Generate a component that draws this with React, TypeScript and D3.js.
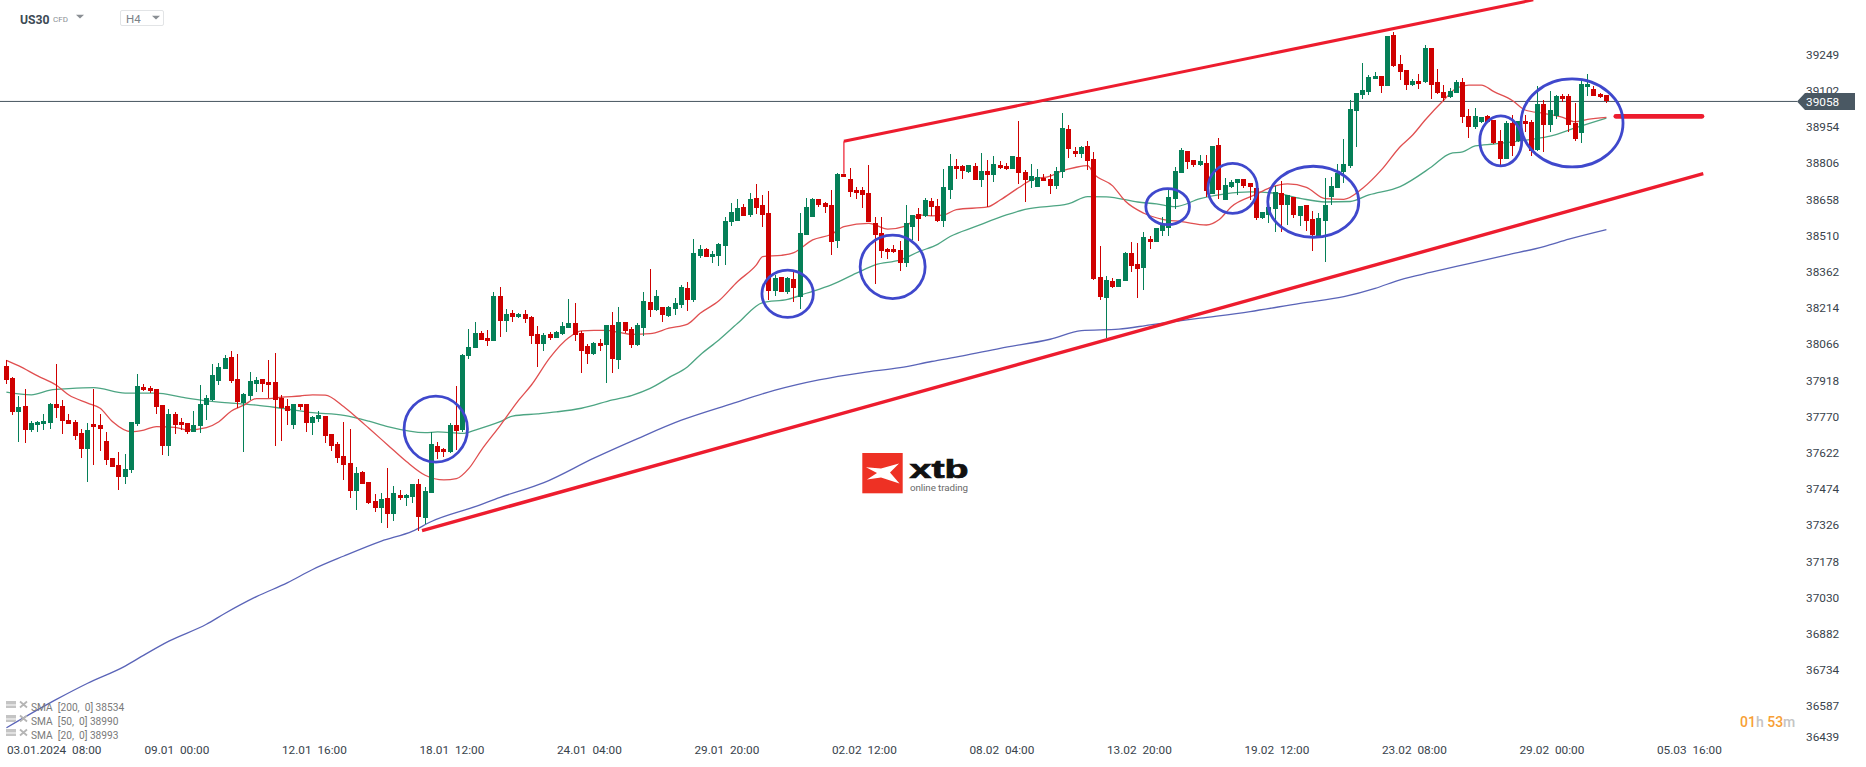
import { useEffect, useRef } from 'react';
import * as d3 from 'd3';

// US30 H4, values
const opens = [
  37977,37928,37789,37813,37715,37736,37740,37744,37821,37813,
  37756,37748,37703,37637,37740,37736,37670,37601,37572,37523,
  37552,37740,37891,37887,37883,37817,37650,37780,37748,37744,
  37707,37731,37817,37838,37915,37964,38013,37923,37825,37854,
  37903,37923,37911,37911,37846,37813,37736,37821,37821,37744,
  37760,37772,37699,37658,37609,37580,37466,37544,37503,37425,
  37396,37437,37372,37450,37437,37441,37494,37356,37458,37650,
  37637,37625,37736,37715,38017,38050,38111,38091,38079,38263,
  38161,38193,38177,38189,38177,38107,38067,38107,38091,38107,
  38132,38152,38112,38058,38026,38071,38062,38144,38001,38157,
  38128,38062,38132,38238,38206,38218,38181,38210,38226,38295,
  38247,38427,38455,38422,38427,38467,38566,38570,38627,38594,
  38664,38635,38602,38284,38341,38279,38333,38259,38512,38586,
  38659,38643,38635,38488,38762,38741,38696,38696,38684,38561,
  38521,38455,38455,38451,38398,38545,38598,38590,38651,38631,
  38570,38696,38794,38794,38770,38794,38737,38774,38758,38798,
  38794,38782,38831,38770,38733,38708,38745,38741,38713,38770,
  38945,38856,38843,38876,38823,38341,38255,38324,38300,38324,
  38439,38394,38378,38496,38484,38529,38541,38659,38766,38856,
  38819,38798,38807,38680,38880,38655,38708,38725,38741,38725,
  38704,38582,38594,38619,38684,38635,38668,38590,38635,38578,
  38508,38570,38668,38704,38770,38794,39019,39085,39097,39150,
  39162,39121,39330,39211,39187,39125,39142,39138,39277,39138,
  39097,39076,39093,39138,38999,38953,38974,38998,38982,38896,
  38822,38970,38896,38978,38974,38859,39047,38961,38998,39080,
  39080,38970,38929,39117,39109,39088,39084,
];
const highs = [
  38001,37932,37854,37883,37752,37752,37780,37825,37985,37838,
  37780,37756,37719,37744,37883,37780,37707,37601,37625,37617,
  37748,37944,37903,37895,37883,37817,37801,37789,37764,37744,
  37793,37899,37858,37985,37989,38021,38038,38026,37866,37952,
  37932,37923,38001,38030,37858,37842,37821,37821,37821,37772,
  37793,37772,37699,37666,37748,37719,37564,37548,37503,37454,
  37458,37560,37486,37470,37454,37494,37515,37482,37707,37666,
  37642,37744,37895,38026,38128,38156,38120,38124,38279,38299,
  38210,38206,38193,38206,38181,38140,38112,38116,38120,38157,
  38251,38234,38120,38067,38075,38087,38144,38197,38218,38157,
  38136,38152,38279,38373,38287,38218,38222,38255,38308,38320,
  38496,38472,38459,38447,38480,38586,38643,38659,38639,38684,
  38721,38676,38692,38349,38341,38341,38361,38602,38664,38664,
  38659,38647,38696,38766,38762,38786,38708,38708,38798,38586,
  38586,38459,38472,38488,38635,38594,38623,38664,38664,38659,
  38782,38843,38823,38798,38798,38807,38847,38819,38835,38815,
  38807,38835,38978,38778,38802,38782,38762,38762,38790,39011,
  38962,38872,38876,38896,38851,38467,38345,38337,38333,38443,
  38484,38480,38525,38508,38541,38586,38704,38790,38868,38856,
  38819,38839,38839,38876,38909,38745,38737,38741,38741,38725,
  38704,38606,38655,38713,38733,38676,38668,38631,38635,38610,
  38602,38745,38749,38802,38905,39064,39093,39215,39166,39179,
  39162,39326,39342,39248,39187,39150,39170,39289,39277,39191,
  39125,39113,39146,39154,39027,39031,38994,39002,38982,38941,
  38978,39002,38978,39002,38982,39121,39064,39100,39084,39088,
  39088,39051,39141,39170,39121,39092,39084,
];
const lows = [
  37903,37776,37666,37662,37707,37707,37715,37719,37764,37699,
  37740,37674,37601,37503,37572,37629,37572,37564,37470,37494,
  37539,37731,37874,37866,37780,37613,37609,37699,37715,37699,
  37707,37703,37756,37834,37899,37964,37907,37805,37625,37838,
  37870,37870,37846,37650,37670,37736,37719,37797,37707,37695,
  37748,37662,37629,37580,37511,37437,37388,37494,37413,37380,
  37335,37315,37343,37429,37405,37417,37302,37331,37458,37597,
  37605,37621,37633,37707,38005,38050,38083,38058,38079,38095,
  38116,38157,38173,38152,38067,37973,38038,38083,38091,38103,
  38132,38079,37948,37985,38022,38038,37907,37948,37964,38112,
  38050,38058,38099,38177,38201,38157,38177,38185,38214,38201,
  38239,38418,38422,38398,38386,38390,38549,38570,38590,38586,
  38598,38545,38247,38263,38279,38271,38239,38210,38512,38586,
  38627,38602,38431,38459,38749,38668,38659,38623,38566,38312,
  38418,38414,38439,38365,38382,38492,38488,38586,38590,38566,
  38545,38659,38741,38741,38766,38737,38708,38627,38729,38782,
  38778,38782,38721,38647,38704,38707,38733,38680,38700,38745,
  38827,38831,38827,38778,38329,38247,38092,38296,38300,38324,
  38361,38255,38288,38455,38484,38508,38508,38619,38766,38782,
  38790,38794,38668,38680,38659,38655,38704,38676,38704,38655,
  38574,38578,38561,38525,38525,38553,38582,38549,38529,38447,
  38508,38402,38635,38704,38725,38786,38872,39068,39085,39150,
  39093,39121,39199,39146,39105,39121,39109,39134,39068,39089,
  39060,39072,39093,38970,38909,38945,38970,38974,38884,38790,
  38822,38835,38892,38933,38835,38855,38851,38933,38986,39055,
  38933,38896,38888,39080,39080,39072,39051,
];
const closes = [
  37921,37789,37809,37715,37744,37748,37752,37821,37805,37752,
  37740,37691,37637,37715,37727,37719,37593,37564,37523,37556,
  37748,37895,37879,37874,37809,37650,37780,37736,37736,37707,
  37736,37821,37846,37940,37972,38009,37915,37830,37862,37915,
  37919,37903,37899,37838,37805,37793,37821,37809,37744,37768,
  37776,37691,37650,37601,37572,37466,37539,37494,37417,37396,
  37433,37372,37458,37437,37450,37494,37360,37466,37658,37625,
  37625,37736,37711,38021,38054,38111,38083,38079,38263,38160,
  38189,38177,38189,38169,38099,38067,38103,38091,38116,38140,
  38152,38103,38038,38026,38071,38058,38144,38005,38157,38120,
  38062,38144,38242,38206,38263,38185,38218,38234,38300,38246,
  38439,38455,38422,38435,38476,38570,38606,38623,38590,38659,
  38623,38594,38284,38337,38279,38337,38296,38521,38627,38659,
  38635,38627,38484,38762,38749,38688,38684,38676,38566,38512,
  38447,38443,38443,38398,38561,38594,38578,38655,38627,38570,
  38708,38794,38782,38774,38798,38737,38774,38758,38802,38786,
  38782,38835,38766,38737,38753,38749,38733,38713,38774,38950,
  38864,38843,38872,38815,38333,38259,38329,38300,38333,38439,
  38386,38373,38504,38484,38541,38553,38668,38774,38860,38811,
  38798,38815,38692,38876,38696,38717,38729,38741,38713,38708,
  38582,38606,38627,38688,38635,38676,38594,38631,38570,38512,
  38582,38635,38713,38766,38802,39027,39093,39105,39158,39162,
  39121,39326,39203,39179,39125,39142,39129,39277,39125,39093,
  39072,39101,39138,38995,38954,38998,38994,38974,38888,38822,
  38970,38876,38978,38965,38855,39047,38961,39023,39080,39068,
  38961,38904,39129,39129,39080,39076,39060,
];

// moving averages, read at the candles listed in the Idx arrays
const sma20Idx = [0,2,5,8,10,13,15,17,20,22,24,27,29,32,34,36,38,40,42,44,47,49,51,54,56,58,61,64,67,70,72,74,76,79,82,84,87,90,92,94,96,98,100,103,106,109,111,114,117,120,121,124,126,129,132,134,138,141,144,146,148,150,152,157,159,162,164,167,169,171,173,174,177,179,182,185,188,192,194,196,200,202,205,208,211,214,217,220,223,225,227,230,232,234,236,238,241,243,246,249,251,253,256];
const sma20Val = [38000,37977,37936,37898,37858,37825,37804,37749,37708,37715,37729,37726,37715,37725,37749,37793,37817,37843,37843,37849,37854,37859,37858,37810,37767,37722,37654,37586,37530,37511,37516,37558,37633,37733,37838,37899,38012,38093,38120,38122,38122,38114,38106,38109,38131,38148,38192,38243,38322,38390,38424,38429,38440,38492,38515,38546,38560,38536,38549,38594,38590,38594,38616,38627,38655,38706,38737,38753,38775,38788,38796,38762,38713,38651,38601,38576,38567,38553,38574,38628,38679,38704,38721,38707,38661,38658,38703,38778,38873,38921,38982,39064,39112,39125,39125,39098,39061,39023,39009,38993,38975,38985,38993];

const sma50Idx = [0,4,7,10,14,19,24,28,32,36,40,44,49,54,58,61,67,69,73,75,79,81,85,88,92,97,100,103,106,109,111,114,117,121,125,128,132,136,139,143,146,149,151,155,160,163,170,173,176,181,184,187,191,195,199,203,207,211,215,218,223,228,231,233,235,238,244,247,251,256];
const sma50Val = [37870,37859,37878,37884,37888,37866,37866,37849,37834,37825,37817,37804,37786,37775,37751,37729,37704,37707,37701,37715,37749,37772,37781,37789,37804,37838,37856,37885,37929,37974,38022,38083,38151,38236,38249,38274,38308,38356,38390,38410,38444,38474,38506,38546,38594,38617,38640,38669,38668,38647,38639,38628,38661,38680,38688,38683,38662,38647,38649,38676,38710,38790,38845,38852,38876,38884,38903,38916,38950,38990];

const sma200Idx = [0,8,13,19,22,26,32,35,40,45,49,54,60,65,68,75,79,86,94,101,108,116,123,130,137,143,148,153,159,167,172,178,183,191,199,207,214,219,223,228,234,240,246,250,256];
const sma200Val = [36498,36614,36680,36750,36795,36852,36921,36966,37034,37091,37145,37200,37261,37302,37341,37402,37440,37500,37600,37680,37755,37822,37878,37920,37950,37970,37995,38018,38049,38086,38121,38127,38145,38172,38199,38233,38260,38294,38329,38360,38395,38430,38465,38495,38534];

const priceTicks = [39249,39102,38954,38806,38658,38510,38362,38214,38066,37918,37770,37622,37474,37326,37178,37030,36882,36734,36587,36439];
const timeTicks = [0,22,44,66,88,110,132,154,176,198,220,242,264];
const timeLabels = ['03.01.2024  08:00','09.01  00:00','12.01  16:00','18.01  12:00','24.01  04:00','29.01  20:00','02.02  12:00','08.02  04:00','13.02  20:00','19.02  12:00','23.02  08:00','29.02  00:00','05.03  16:00'];
const lastPrice = 39058;
const legendLabels = ['SMA  [200,  0] 38534','SMA  [50,  0] 38990','SMA  [20,  0] 38993'];

// hand drawn annotations in candle index / price
const circleIdx = [68.7,125,141.8,185.8,196.2,209.1,239.1,250.5];
const circlePrice = [37719,38272,38382,38628,38703,38648,38897,38970];
const circleRx = [31.7,25.7,32.5,21.8,24.7,45.5,21,51];
const circleRy = [33,23.7,31.7,18,25,35.5,25,44];
const trendLines = [
  { x1: 66.5, p1: 37304, x2: 271.5, p2: 38763, w: 3.4 },
  { x1: 134, p1: 38895, x2: 244.3, p2: 39473, w: 3 },
  { x1: 257.5, p1: 38997, x2: 271.3, p2: 38997, w: 4.6 },
];

const width = 1866;
const height = 767;
const font = 'Roboto, sans-serif';
const upColor = '#057f57';
const downColor = '#cf0000';
const annotRed = '#ed1c2e';
const annotBlue = '#3f48cc';

const App = () => {
  const svgRef = useRef<SVGSVGElement>(null);

  useEffect(() => {
    if (!svgRef.current) return;
    const svg = d3.select(svgRef.current);
    svg.selectAll('*').remove();

    // 6.25px per candle, first candle at x=6.4
    const x = d3.scaleLinear().domain([0, 256]).range([6.4, 1606.4]);
    // 39249 sits at y=54.7, about 0.2447px per point
    const y = d3.scaleLinear().domain([39249, 36587]).range([54.7, 706]);

    // price line
    svg.append('line')
      .attr('x1', 0).attr('x2', 1797)
      .attr('y1', y(lastPrice)).attr('y2', y(lastPrice))
      .attr('stroke', '#46545f').attr('stroke-width', 1);

    // moving averages
    const drawSma = (idx: number[], val: number[], color: string) => {
      const line = d3.line<number>()
        .x(d => x(d))
        .y((_, i) => y(val[i]))
        .curve(d3.curveMonotoneX);
      svg.append('path')
        .attr('d', line(idx))
        .attr('fill', 'none')
        .attr('stroke', color)
        .attr('stroke-width', 1.3);
    };
    drawSma(sma200Idx, sma200Val, '#5a64b8');
    drawSma(sma50Idx, sma50Val, '#4da583');
    drawSma(sma20Idx, sma20Val, '#e04f50');

    // candles
    const candles = svg.append('g').attr('shape-rendering', 'crispEdges');
    const idx = d3.range(opens.length);
    candles.selectAll('.wick')
      .data(idx)
      .enter()
      .append('rect')
      .attr('class', 'wick')
      .attr('x', d => Math.round(x(d) - 0.5))
      .attr('width', 1)
      .attr('y', d => y(highs[d]))
      .attr('height', d => y(lows[d]) - y(highs[d]))
      .attr('fill', d => (closes[d] >= opens[d] ? upColor : downColor));
    candles.selectAll('.body')
      .data(idx)
      .enter()
      .append('rect')
      .attr('class', 'body')
      .attr('x', d => Math.round(x(d) - 0.5) - 2)
      .attr('width', 5)
      .attr('y', d => y(Math.max(opens[d], closes[d])))
      .attr('height', d => Math.abs(y(opens[d]) - y(closes[d])))
      .attr('fill', d => (closes[d] >= opens[d] ? upColor : downColor));

    // trend lines
    trendLines.forEach((t, i) => {
      svg.append('line')
        .attr('x1', x(t.x1)).attr('y1', y(t.p1))
        .attr('x2', x(t.x2)).attr('y2', y(t.p2))
        .attr('stroke', annotRed)
        .attr('stroke-width', t.w)
        .attr('stroke-linecap', i === 2 ? 'round' : 'butt');
    });
    // thin stem under the upper channel line
    svg.append('line')
      .attr('x1', x(134)).attr('x2', x(134))
      .attr('y1', y(38895)).attr('y2', y(38762))
      .attr('stroke', annotRed).attr('stroke-width', 1.2);

    // circles
    svg.selectAll('.circle')
      .data(circleIdx)
      .enter()
      .append('ellipse')
      .attr('class', 'circle')
      .attr('cx', d => x(d))
      .attr('cy', (_, i) => y(circlePrice[i]))
      .attr('rx', (_, i) => circleRx[i])
      .attr('ry', (_, i) => circleRy[i])
      .attr('fill', 'none')
      .attr('stroke', annotBlue)
      .attr('stroke-width', 2.8);

    // right axis
    const yAxis = svg.append('g')
      .attr('transform', 'translate(1806,0)')
      .call(d3.axisRight(y).tickValues(priceTicks).tickSize(0).tickPadding(0).tickFormat(d => String(d)));
    yAxis.select('.domain').remove();
    yAxis.selectAll('text')
      .attr('font-family', font)
      .attr('font-size', 11.8)
      .attr('fill', '#39434c');
    // lowest label is pushed up by the chart edge
    yAxis.selectAll<SVGTextElement, number>('text')
      .filter(d => d === 36439)
      .attr('dy', '-0.15em');

    // price flag
    const py = y(lastPrice);
    const flag = d3.path();
    flag.moveTo(1797, py);
    flag.lineTo(1805, py - 8.5);
    flag.lineTo(1855, py - 8.5);
    flag.lineTo(1855, py + 8.5);
    flag.lineTo(1805, py + 8.5);
    flag.closePath();
    svg.append('path').attr('d', flag.toString()).attr('fill', '#4a5863');
    svg.append('text')
      .attr('x', 1806).attr('y', py + 4.5)
      .attr('font-family', font).attr('font-size', 11.8)
      .attr('fill', '#fff')
      .text(lastPrice);

    // bottom axis
    const xAxis = svg.append('g')
      .attr('transform', 'translate(0,746)')
      .call(d3.axisBottom(x).tickValues(timeTicks).tickSize(0).tickPadding(0)
        .tickFormat((_, i) => timeLabels[i]));
    xAxis.select('.domain').remove();
    xAxis.selectAll('text')
      .attr('text-anchor', 'start')
      .attr('font-family', font)
      .attr('font-size', 11.8)
      .attr('fill', '#39434c')
      .style('white-space', 'pre');

    // header
    svg.append('text').attr('x', 20).attr('y', 23.5)
      .attr('font-family', font).attr('font-size', 12.2).attr('font-weight', 700)
      .attr('fill', '#3d4a55').text('US30');
    svg.append('text').attr('x', 53).attr('y', 21.8)
      .attr('font-family', font).attr('font-size', 8)
      .attr('fill', '#8a8f94').text('CFD');
    svg.append('path').attr('d', 'M76,14.7 L84,14.7 L80,18.6 Z').attr('fill', '#8a8f94');
    svg.append('rect')
      .attr('x', 120.5).attr('y', 10.5).attr('width', 43).attr('height', 15).attr('rx', 1.5)
      .attr('fill', '#fff').attr('stroke', '#e2e4e6');
    svg.append('text').attr('x', 126).attr('y', 23.2)
      .attr('font-family', font).attr('font-size', 11.5)
      .attr('fill', '#7b8288').text('H4');
    svg.append('path').attr('d', 'M152,15.7 L160,15.7 L156,19.4 Z').attr('fill', '#8a8f94');

    // indicator legend
    legendLabels.forEach((label, i) => {
      const base = 711 + i * 14;
      const g = svg.append('g');
      g.append('rect').attr('x', 6).attr('y', base - 10).attr('width', 10).attr('height', 3.5).attr('fill', '#c4c4c4');
      g.append('rect').attr('x', 6).attr('y', base - 5.5).attr('width', 10).attr('height', 2.5).attr('fill', '#c4c4c4');
      g.append('path')
        .attr('d', `M20,${base - 9.5} L27,${base - 3.5} M27,${base - 9.5} L20,${base - 3.5}`)
        .attr('stroke', '#b5b5b5').attr('stroke-width', 1.8);
      g.append('text').attr('x', 31).attr('y', base)
        .attr('font-family', font).attr('font-size', 10.2)
        .attr('fill', '#7a7a7a')
        .style('white-space', 'pre')
        .text(label);
    });

    // countdown
    const timer = svg.append('text').attr('x', 1740).attr('y', 727)
      .attr('font-family', font).attr('font-size', 14)
      .attr('font-weight', 500);
    timer.append('tspan').attr('fill', '#f7a035').text('01');
    timer.append('tspan').attr('fill', '#c4c4c4').text('h ');
    timer.append('tspan').attr('fill', '#f7a035').text('53');
    timer.append('tspan').attr('fill', '#c4c4c4').text('m');

    // xtb logo
    const logo = svg.append('g');
    logo.append('rect').attr('x', 862.3).attr('y', 453).attr('width', 40.4).attr('height', 40.3).attr('fill', '#ee3124');
    logo.append('path')
      .attr('d', 'M866,467.3 L881,468.5 L899,463.5 L890,472.5 L899.5,483.5 L881,477.5 L867,479.5 L877,473 Z')
      .attr('fill', '#fff');
    logo.append('text').attr('x', 909.5).attr('y', 478)
      .attr('font-family', '"Liberation Sans", sans-serif').attr('font-size', 25).attr('font-weight', 700)
      .attr('textLength', 59).attr('lengthAdjust', 'spacingAndGlyphs')
      .attr('stroke', '#111').attr('stroke-width', 0.7)
      .attr('fill', '#111').text('xtb');
    logo.append('text').attr('x', 910).attr('y', 491)
      .attr('font-family', font).attr('font-size', 9.8)
      .attr('textLength', 58)
      .attr('fill', '#6a6a6a').text('online trading');
  }, []);

  return (
    <svg
      ref={svgRef}
      width={width}
      height={height}
      style={{ position: 'fixed', left: 0, top: 0, background: '#fff', display: 'block' }}
    />
  );
};

export default App;
